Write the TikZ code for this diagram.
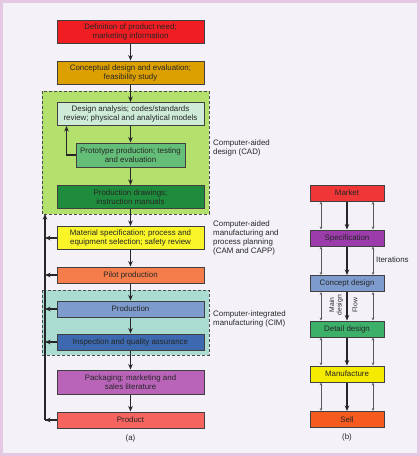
\documentclass[tikz,border=0pt]{standalone}
\usepackage{fontspec}
\setmainfont{Liberation Sans}
\usepackage{tikz}
\usetikzlibrary{arrows.meta}

\definecolor{needred}{RGB}{240,30,35}
\definecolor{conceptgold}{RGB}{220,160,0}
\definecolor{cadfill}{RGB}{180,225,110}
\definecolor{analysismint}{RGB}{205,235,215}
\definecolor{protogreen}{RGB}{100,190,120}
\definecolor{drawgreen}{RGB}{30,140,60}
\definecolor{matyellow}{RGB}{250,245,40}
\definecolor{pilotorange}{RGB}{245,125,75}
\definecolor{cimfill}{RGB}{170,220,210}
\definecolor{prodblue}{RGB}{125,155,205}
\definecolor{inspblue}{RGB}{60,105,175}
\definecolor{packpurple}{RGB}{185,100,185}
\definecolor{productred}{RGB}{245,100,95}
\definecolor{marketred}{RGB}{240,55,55}
\definecolor{specpurple}{RGB}{155,60,170}
\definecolor{detailgreen}{RGB}{60,175,105}
\definecolor{manyellow}{RGB}{245,235,0}
\definecolor{sellorange}{RGB}{245,90,30}
\definecolor{pagebg}{RGB}{244,242,248}
\definecolor{pageedge}{RGB}{228,200,228}

\tikzset{
  stage/.style={draw=black!75,line width=1pt,minimum width=147pt,minimum height=23pt,
    align=center,inner sep=1pt,text=black!85,font=\fontsize{7.9}{9}\selectfont},
  thin stage/.style={stage,minimum height=16pt},
  region/.style={draw=black!70,dashed,dash pattern=on 3pt off 2pt,line width=0.9pt},
  flow/.style={-{Stealth[length=5.5pt,width=4.5pt]},line width=1.2pt,black!85},
  sidenote/.style={anchor=north west,align=left,inner sep=0pt,text=black!85,font=\fontsize{7.9}{9}\selectfont},
  step box/.style={draw=black!75,line width=1pt,minimum width=74pt,minimum height=16pt,
    inner sep=1pt,text=black!85,font=\fontsize{7.9}{9}\selectfont},
  iterate/.style={{Stealth[length=3pt,width=2.5pt]}-{Stealth[length=3pt,width=2.5pt]},line width=0.5pt,black!65}
}

\begin{document}
\begin{tikzpicture}[x=1pt,y=-1pt]
\useasboundingbox (0,0) rectangle (420,456);
\fill[pagebg] (0,0) rectangle (420,456);
\draw[pageedge,line width=3pt] (1.5,1.5) rectangle (418.5,454.5);

\draw[region,fill=cadfill] (42,91) rectangle (209,214);
\draw[region,fill=cimfill] (42,290) rectangle (209,355);

\node[stage,fill=needred] (need) at (130.5,31.5) {Definition of product need;\\marketing information};
\node[stage,fill=conceptgold] (concept) at (130.5,72.5) {Conceptual design and evaluation;\\feasibility study};
\node[stage,fill=analysismint] (analysis) at (130.5,114) {Design analysis; codes/standards\\review; physical and analytical models};
\node[stage,fill=protogreen,minimum width=109pt,minimum height=24pt] (proto) at (130.5,155) {Prototype production; testing\\and evaluation};
\node[stage,fill=drawgreen] (drawings) at (130.5,197) {Production drawings;\\instruction manuals};
\node[stage,fill=matyellow] (material) at (130.5,238) {Material specification; process and\\equipment selection; safety review};
\node[thin stage,fill=pilotorange] (pilot) at (130.5,275) {Pilot production};
\node[thin stage,fill=prodblue] (production) at (130.5,309) {Production};
\node[thin stage,fill=inspblue] (inspection) at (130.5,342) {Inspection and quality assurance};
\node[stage,fill=packpurple,minimum height=24pt] (packaging) at (130.5,382) {Packaging; marketing and\\sales literature};
\node[thin stage,fill=productred] (product) at (130.5,420) {Product};
\node[font=\fontsize{7.9}{9}\selectfont,text=black!85] (capa) at (130.5,438) {(a)};

\draw[flow] (need) -- (concept);
\draw[flow] (concept) -- (analysis);
\draw[flow] (analysis) -- (proto);
\draw[flow] (proto) -- (drawings);
\draw[flow] (drawings) -- (material);
\draw[flow] (material) -- (pilot);
\draw[flow] (pilot) -- (production);
\draw[flow] (production) -- (inspection);
\draw[flow] (inspection) -- (packaging);
\draw[flow] (packaging) -- (product);
\draw[flow] (proto.west) -| ([xshift=10pt]analysis.south west);

\coordinate (backtop) at (45,214);
\coordinate (backbot) at (45,420);
\draw[line width=1.2pt,black!85] (product.west) -- (backbot);
\draw[flow] (backbot) -- (backtop);
\foreach \n in {material,pilot,production,inspection,product}
  \draw[flow] (\n.west) -- (\n.west -| backbot);

\node[sidenote] (cadnote) at (213,140) {Computer-aided\\design (CAD)};
\node[sidenote] (camnote) at (213,221) {Computer-aided\\manufacturing and\\process planning\\(CAM and CAPP)};
\node[sidenote] (cimnote) at (213,311) {Computer-integrated\\manufacturing (CIM)};

\node[step box,fill=marketred] (market) at (347,193) {Market};
\node[step box,fill=specpurple] (spec) at (347,238) {Specification};
\node[step box,fill=prodblue] (cdesign) at (347,283.5) {Concept design};
\node[step box,fill=detailgreen] (ddesign) at (347,329) {Detail design};
\node[step box,fill=manyellow] (manuf) at (347,374) {Manufacture};
\node[step box,fill=sellorange] (sell) at (347,419.5) {Sell};
\node[font=\fontsize{7.9}{9}\selectfont,text=black!85] (capb) at (347,437) {(b)};

\foreach \a/\b in {market/spec,spec/cdesign,cdesign/ddesign,ddesign/manuf,manuf/sell}{
  \draw[flow] (\a) -- (\b);
  \draw[iterate] ([xshift=-26pt]\a.south) -- ([xshift=-26pt]\b.north);
  \draw[iterate] ([xshift=26pt]\a.south) -- ([xshift=26pt]\b.north);
}
\node[anchor=west,inner sep=0pt,text=black!85,font=\fontsize{7.9}{9}\selectfont] (iter) at (376,260) {Iterations};
\node[rotate=90,align=center,inner sep=0pt,text=black!85,font=\fontsize{6.8}{7.5}\selectfont] (mainlbl) at (336,305) {Main\\design};
\node[rotate=90,inner sep=0pt,text=black!85,font=\fontsize{6.8}{7.5}\selectfont] (flowlbl) at (355,305) {Flow};
\end{tikzpicture}
\end{document}
